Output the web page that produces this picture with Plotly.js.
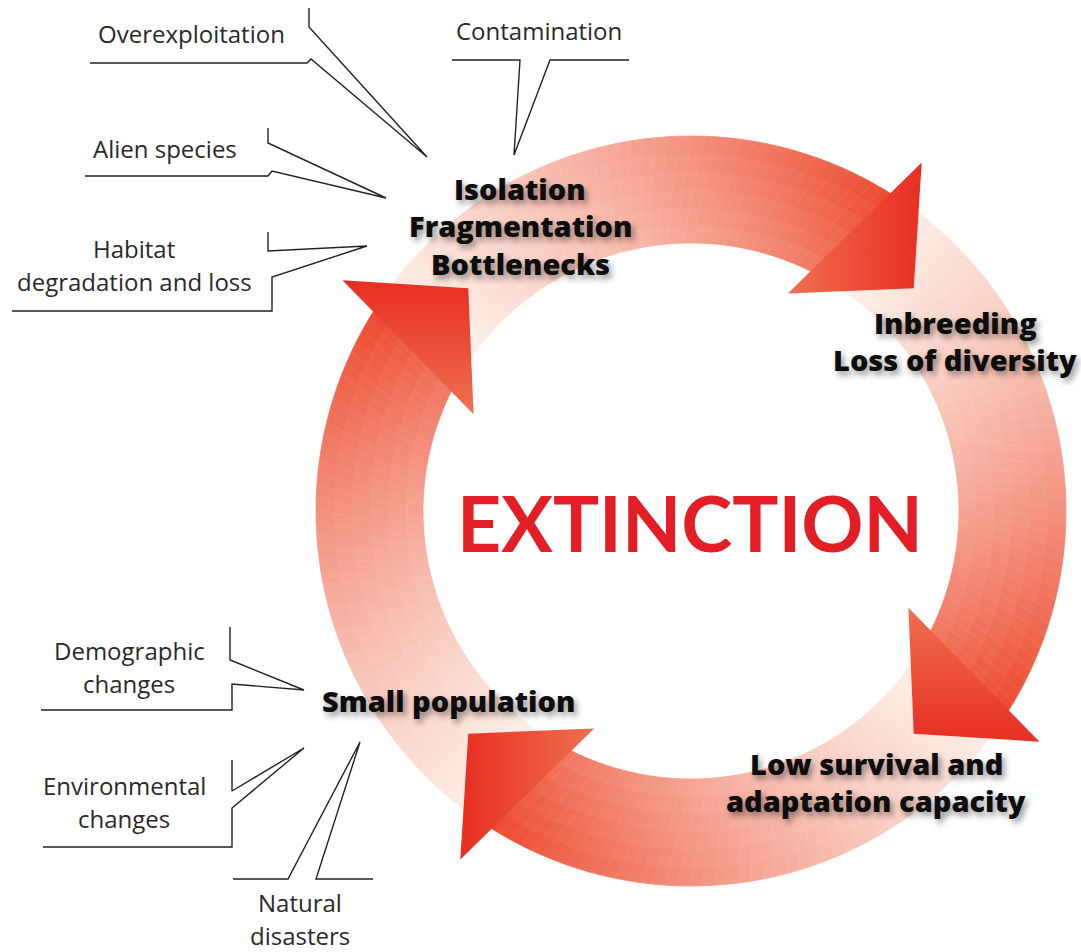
<!DOCTYPE html>
<html>
<head>
<meta charset="utf-8">
<script src="https://cdn.plot.ly/plotly-3.0.1.min.js"></script>
<style>html,body{margin:0;padding:0;background:#fff;}</style>
</head>
<body>
<div id="chart" style="width:1081px;height:952px;"></div>
<script>
// cycle stages, clockwise from the upper left
const stageLabels = ['Isolation\nFragmentation\nBottlenecks', 'Inbreeding\nLoss of diversity',
                     'Low survival and\nadaptation capacity', 'Small population'];
// outside causes feeding into the cycle
const causeLabels = ['Overexploitation', 'Contamination', 'Alien species', 'Habitat\ndegradation and loss',
                     'Demographic\nchanges', 'Environmental\nchanges', 'Natural\ndisasters'];
const centerLabel = 'EXTINCTION';
// angle (deg, counter-clockwise from east) where each arrow's shaft meets its head
const headAngles = [60, -30, -120, 150];

// page is drawn in pixel units
const W = 1081, H = 952;
const cx = 691, cy = 511, rIn = 268, rOut = 375;

const stagePos = [[520, 188], [955, 322], [876, 763], [448, 700]];
const causePos = [[191, 33], [539, 30], [165, 148], [134, 248], [129, 650], [124, 785], [300, 902]];
// callout outlines (speech-bubble pointers)
const callouts = [
  [[309, 8], [309, 27], [427, 157], [311, 59], [307, 63], [90, 63]],
  [[452, 60], [520, 60], [514, 155], [550, 60], [629, 60]],
  [[268, 128], [268, 143], [386, 198], [272, 171], [268, 176], [85, 176]],
  [[268, 232], [268, 251], [367, 246], [272, 277], [272, 311], [12, 311]],
  [[230, 627], [230, 660], [304, 690], [232, 684], [232, 710], [41, 710]],
  [[232, 760], [232, 791], [304, 748], [232, 808], [232, 847], [43, 847]],
  [[233, 879], [288, 879], [360, 742], [316, 879], [373, 879]]
];
// head shading: gradient axis and whether the red end comes first
const headGrad = [['horizontal', false], ['vertical', true], ['horizontal', true], ['vertical', false]];

function pt(r, a) {
  const t = a * Math.PI / 180;
  return [cx + r * Math.cos(t), cy - r * Math.sin(t)];
}
// approx angle of the head's base line at radius r
function baseAngle(th, r) {
  return th - 3.5 + (418 - r) / 180 * 9.5;
}
function mix(w) {
  const a = [253, 241, 234], b = [236, 74, 46];
  return 'rgb(' + a.map((v, i) => Math.round(v + (b[i] - v) * w)).join(',') + ')';
}

const traces = [];
const nA = 48, nR = 6;
headAngles.forEach(th => {
  const start = th + 87;
  // shaft runs a little under the head so no gap shows
  const ang = (s, r) => start + (baseAngle(th, r) - 3.5 - start) * s;
  for (let i = 0; i < nA; i++) {
    const s0 = i / nA, s1 = (i + 1) / nA;
    for (let j = 0; j < nR; j++) {
      const r0 = rIn + (rOut - rIn) * j / nR, r1 = rIn + (rOut - rIn) * (j + 1) / nR;
      const p = [pt(r0, ang(s0, r0)), pt(r0, ang(s1, r0)), pt(r1, ang(s1, r1)), pt(r1, ang(s0, r1))];
      const sm = Math.min(1, (s0 + s1) / 2 * 1.04), tm = (j + 0.5) / nR;
      const col = mix(Math.pow(sm, 1.2) * (0.7 + 0.3 * tm));
      traces.push({
        type: 'scatter', mode: 'lines', x: p.map(q => q[0]), y: p.map(q => q[1]),
        fill: 'toself', fillcolor: col, line: {color: col, width: 0.8},
        hoverinfo: 'skip', showlegend: false
      });
    }
  }
});

headAngles.forEach((th, k) => {
  const p = [pt(418, th - 3.5), pt(315, th - 15), pt(238, th + 6)];
  const light = 'rgb(239,112,80)', red = 'rgb(232,46,34)';
  traces.push({
    type: 'scatter', mode: 'lines', x: p.map(q => q[0]), y: p.map(q => q[1]),
    fill: 'toself', line: {width: 0},
    fillgradient: {type: headGrad[k][0],
                   colorscale: headGrad[k][1] ? [[0, red], [1, light]] : [[0, light], [1, red]]},
    hoverinfo: 'skip', showlegend: false
  });
});

callouts.forEach(c => {
  traces.push({
    type: 'scatter', mode: 'lines', x: c.map(q => q[0]), y: c.map(q => q[1]),
    line: {color: '#222', width: 1.4}, hoverinfo: 'skip', showlegend: false
  });
});

const annotations = [];
function addLines(text, pos, gap, font) {
  text.split('\n').forEach((line, i) => {
    annotations.push({
      x: pos[0], y: pos[1] + i * gap, xref: 'x', yref: 'y', text: line,
      showarrow: false, xanchor: 'center', yanchor: 'middle', font: font
    });
  });
}
const stageFont = {family: 'Open Sans', size: 29, weight: 800, color: '#0d0d0d',
                   shadow: '3px 4px 6px rgba(0,0,0,0.42)'};
const causeFont = {family: 'Open Sans', size: 24, color: '#2a2a2a'};
stageLabels.forEach((t, i) => addLines(t, stagePos[i], 37.5, stageFont));
causeLabels.forEach((t, i) => addLines(t, causePos[i], 33.5, causeFont));
addLines(centerLabel, [690, 522], 0, {family: 'Lato', size: 77, weight: 700, color: 'rgb(228,30,37)'});

Plotly.newPlot('chart', traces, {
  width: W, height: H,
  margin: {l: 0, r: 0, t: 0, b: 0, pad: 0},
  paper_bgcolor: '#fff', plot_bgcolor: '#fff',
  xaxis: {range: [0, W], visible: false, fixedrange: true},
  yaxis: {range: [H, 0], visible: false, fixedrange: true},
  showlegend: false,
  annotations: annotations
}, {displayModeBar: false, staticPlot: true});
</script>
</body>
</html>
